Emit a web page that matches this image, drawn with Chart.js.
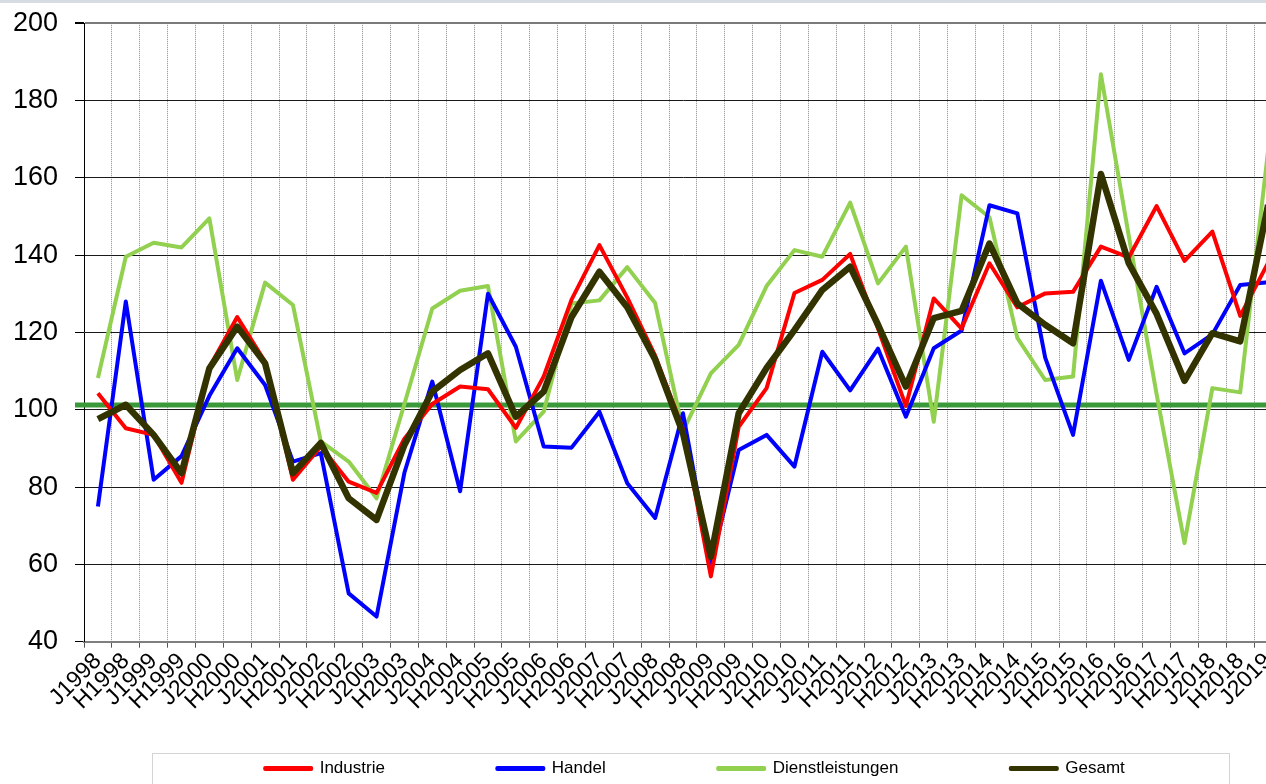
<!DOCTYPE html>
<html lang="de">
<head>
<meta charset="utf-8">
<title>Index Industrie / Handel / Dienstleistungen</title>
<script src="https://cdn.jsdelivr.net/npm/chart.js@4.4.1/dist/chart.umd.min.js"></script>
<style>
  html, body { margin: 0; padding: 0; background: #fff; overflow: hidden; }
  body { position: relative; width: 1266px; height: 784px; }
  #strip { position: absolute; left: 0; top: 0; width: 1266px; height: 3px; background: #d7dce3; z-index: 2; }
  #indexChart { position: absolute; left: 0; top: -10px; display: block; }
</style>
</head>
<body>
<div id="strip"></div>
<canvas id="indexChart" width="1390" height="797"></canvas>
<script>
// Halbjahre: J = Januar, H = Herbst
const periods = [
  "J1998", "H1998", "J1999", "H1999", "J2000", "H2000", "J2001", "H2001",
  "J2002", "H2002", "J2003", "H2003", "J2004", "H2004", "J2005", "H2005",
  "J2006", "H2006", "J2007", "H2007", "J2008", "H2008", "J2009", "H2009",
  "J2010", "H2010", "J2011", "H2011", "J2012", "H2012", "J2013", "H2013",
  "J2014", "H2014", "J2015", "H2015", "J2016", "H2016", "J2017", "H2017",
  "J2018", "H2018", "J2019"
];

const industrie = [
  104.3, 95.2, 93.5, 81.1, 111, 124, 112.4, 81.9, 90.5, 81.4, 78.5, 92.5,
  101.5, 106, 105.3, 95.3, 108.6, 128.5, 142.6, 129, 114, 95, 56.9, 95.6,
  105.6, 130.2, 133.6, 140.3, 121, 101, 128.8, 121, 137.9, 126.5, 130.1, 130.5,
  142.2, 139.4, 152.7, 138.5, 146.1, 124.3, 138
];

const handel = [
  75, 128, 81.9, 88, 103.6, 115.9, 106.4, 86.6, 88.8, 52.5, 46.5, 83.7,
  107.3, 78.9, 130, 116.3, 90.5, 90.2, 99.5, 81, 72, 99.1, 59.9, 89.6,
  93.5, 85.3, 115, 105, 115.8, 98.2, 115.9, 120.5, 152.9, 150.8, 113.5, 93.5,
  133.4, 112.9, 131.8, 114.6, 119.5, 132.3, 133
];

const dienstleistungen = [
  108.2, 139.6, 143.2, 142, 149.5, 107.7, 132.9, 127.1, 91.8, 86.6, 77.1, 101.5,
  126.2, 130.8, 132, 91.8, 99.5, 127.5, 128.3, 136.9, 127.6, 94.5, 109.4, 116.8,
  132, 141.3, 139.6, 153.6, 132.7, 142.2, 96.9, 155.5, 149.8, 118.6, 107.7, 108.6,
  186.8, 145, 104, 65.5, 105.6, 104.5, 167
];

const gesamt = [
  97.6, 101.3, 93.5, 83.6, 110.7, 121.5, 112, 83.6, 91.4, 77.1, 71.5, 90.9,
  104.7, 110.3, 114.6, 98.2, 104.7, 124, 135.7, 126.5, 113, 93.9, 62, 99.1,
  110.8, 120.6, 131, 137, 122, 106, 123.7, 125.6, 143, 127.5, 122, 117.2,
  161, 137.9, 124.8, 107.5, 119.8, 117.7, 153
];

// langjähriger Durchschnitt (grüne Linie)
const avgLevel = 101.2;

const yMin = 40;
const yMax = 200;
const yStep = 20;

const fontFamily = "'Liberation Sans', Arial, sans-serif";
const legendSpacer = " ".repeat(20);

const avgLinePlugin = {
  id: "avgLine",
  beforeDatasetsDraw(chart) {
    const { ctx, chartArea, scales } = chart;
    const yPos = scales.y.getPixelForValue(avgLevel);
    ctx.save();
    ctx.strokeStyle = "#3a9a3a";
    ctx.lineWidth = 5;
    ctx.beginPath();
    ctx.moveTo(chartArea.left - 9, yPos);
    ctx.lineTo(chartArea.right, yPos);
    ctx.stroke();
    ctx.restore();
  }
};

// grauer Rahmen um die Legende
const legendFramePlugin = {
  id: "legendFrame",
  afterDraw(chart) {
    const boxes = chart.legend && chart.legend.legendHitBoxes;
    if (!boxes || !boxes.length) return;
    const first = boxes[0];
    const last = boxes[boxes.length - 1];
    const left = Math.round(first.left - 113) + 0.5;
    const right = Math.round(last.left + last.width + 104) + 0.5;
    const top = Math.round(first.top + first.height / 2 - 16) + 0.5;
    const c = chart.ctx;
    c.save();
    c.strokeStyle = "#d4d4d4";
    c.lineWidth = 1;
    c.strokeRect(left, top, right - left, 200);
    c.restore();
  }
};

function line(label, data, color, width, order) {
  return {
    label: label,
    data: data,
    borderColor: color,
    backgroundColor: color,
    borderWidth: width,
    pointRadius: 0,
    pointHoverRadius: 0,
    tension: 0,
    borderJoinStyle: "round",
    fill: false,
    order: order,
    yAxisID: "y"
  };
}

const ctx = document.getElementById("indexChart").getContext("2d");

new Chart(ctx, {
  type: "line",
  data: {
    labels: periods,
    datasets: [
      line("Industrie", industrie, "#ff0000", 4, 1),
      line("Handel", handel, "#0000ff", 4, 2),
      line("Dienstleistungen", dienstleistungen, "#92d050", 4, 3),
      line("Gesamt", gesamt, "#333300", 6.5, 0)
    ]
  },
  options: {
    responsive: false,
    devicePixelRatio: 1,
    animation: false,
    layout: { padding: 0 },
    scales: {
      x: {
        offset: true,
        grid: {
          offset: true,
          color: "#8c8c8c",
          lineWidth: 1,
          tickLength: 6,
          tickColor: "#555555",
          tickBorderDash: []
        },
        border: { display: true, color: "#7f7f7f", width: 2, dash: [1, 1] },
        ticks: {
          autoSkip: false,
          maxRotation: 45,
          minRotation: 45,
          padding: 0,
          color: "#000",
          font: { family: fontFamily, size: 23 }
        },
        afterFit(scale) { scale.height = 100.3; }
      },
      y: {
        min: yMin,
        max: yMax,
        ticks: {
          stepSize: yStep,
          padding: 17,
          color: "#000",
          font: { family: fontFamily, size: 27 }
        },
        grid: {
          color: c => (c.tick && c.tick.value === yMax ? "#7a7a7a" : "#1a1a1a"),
          lineWidth: c => (c.tick && c.tick.value === yMax ? 2 : 1),
          tickLength: 9,
          tickColor: "#000"
        },
        border: { display: true, color: "#000", width: 1 },
        afterFit(scale) { scale.width = 84; }
      },
      yPad: {
        position: "right",
        display: true,
        grid: { display: false },
        border: { display: false },
        ticks: { display: false },
        afterFit(scale) { scale.width = 108; }
      }
    },
    plugins: {
      tooltip: { enabled: false },
      legend: {
        position: "bottom",
        labels: {
          boxWidth: 46,
          boxHeight: 1,
          padding: 18,
          color: "#000",
          font: { family: fontFamily, size: 17 },
          sort: (a, b) => a.datasetIndex - b.datasetIndex,
          generateLabels(chart) {
            const items = Chart.defaults.plugins.legend.labels.generateLabels(chart);
            return items.map(item => Object.assign(item, {
              text: item.datasetIndex < items.length - 1 ? item.text + legendSpacer : item.text,
              lineWidth: 4,
              lineJoin: "round",
              lineCap: "round",
              fillStyle: item.strokeStyle
            }));
          }
        }
      }
    }
  },
  plugins: [avgLinePlugin, legendFramePlugin]
});
</script>
</body>
</html>
